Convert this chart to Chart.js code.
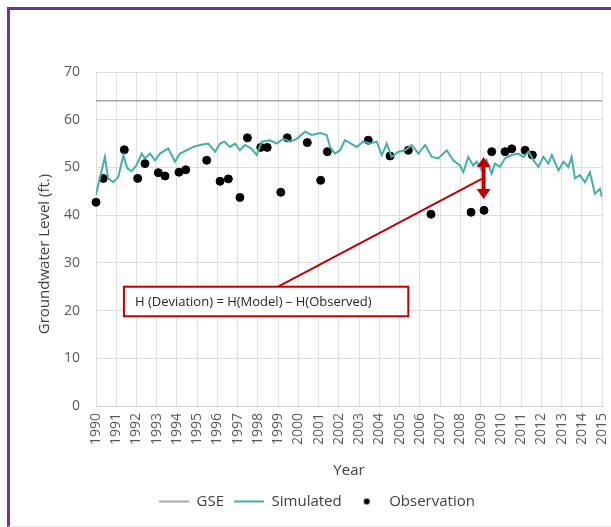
<!DOCTYPE html>
<html>
<head>
<meta charset="utf-8">
<script src="https://cdn.jsdelivr.net/npm/chart.js@4.4.0/dist/chart.umd.min.js"></script>
<style>
  html, body { margin: 0; padding: 0; background: #fff; }
  #wrap { position: relative; width: 611px; height: 527px; overflow: hidden; }
  #frame { position: absolute; left: 7px; top: 7px; width: 700px; height: 516px;
           border-left: 3px solid #7030a0; border-top: 3px solid #7030a0; border-bottom: 1px solid #e8e8e8; }
  #chart { position: absolute; left: 0; top: 0; }
</style>
</head>
<body>
<div id="wrap">
  <div id="frame"></div>
  <canvas id="chart" width="611" height="527"></canvas>
</div>
<script>
// tick labels
const yearTicks = [1990, 1991, 1992, 1993, 1994, 1995, 1996, 1997, 1998, 1999, 2000, 2001, 2002,
                   2003, 2004, 2005, 2006, 2007, 2008, 2009, 2010, 2011, 2012, 2013, 2014, 2015];

// ground surface elevation
const gseYears = [1990, 2015];
const gseLevels = [64, 64];

// simulated groundwater level
const simYears = [1990.0, 1990.44, 1990.6, 1990.85, 1991.1, 1991.35, 1991.55, 1991.76, 1992.0, 1992.26,
                  1992.42, 1992.67, 1992.91, 1993.16, 1993.57, 1993.9, 1994.15, 1994.48, 1994.8, 1995.14,
                  1995.55, 1995.88, 1996.13, 1996.35, 1996.62, 1996.87, 1997.11, 1997.36, 1997.69, 1997.94,
                  1998.19, 1998.6, 1998.93, 1999.25, 1999.58, 1999.92, 2000.33, 2000.66, 2001.07, 2001.4,
                  2001.56, 2001.81, 2002.06, 2002.3, 2002.6, 2002.88, 2003.2, 2003.54, 2003.87, 2004.12,
                  2004.36, 2004.61, 2004.94, 2005.27, 2005.6, 2005.93, 2006.26, 2006.59, 2006.91, 2007.33,
                  2007.65, 2007.98, 2008.15, 2008.39, 2008.64, 2008.8, 2009.05, 2009.3, 2009.55, 2009.71,
                  2009.96, 2010.21, 2010.54, 2010.87, 2011.12, 2011.37, 2011.61, 2011.86, 2012.1, 2012.35,
                  2012.52, 2012.85, 2013.1, 2013.34, 2013.5, 2013.66, 2013.91, 2014.16, 2014.4, 2014.65,
                  2014.9, 2015.0];
const simLevels = [44.3, 52.2, 47.7, 46.9, 48.0, 52.5, 49.8, 49.2, 50.4, 52.9,
                   51.9, 52.9, 51.5, 52.9, 54.0, 51.2, 52.9, 53.6, 54.3, 54.7,
                   55.0, 53.3, 55.0, 55.4, 54.3, 55.0, 53.6, 54.7, 53.9, 52.6,
                   55.4, 55.7, 55.0, 56.0, 55.4, 56.0, 57.5, 56.8, 57.2, 56.8,
                   54.3, 52.9, 53.6, 55.7, 55.0, 54.3, 55.4, 55.0, 55.4, 52.6,
                   55.0, 52.2, 53.3, 53.6, 54.7, 52.9, 54.7, 52.2, 51.9, 53.6,
                   51.5, 50.4, 49.0, 52.2, 50.4, 51.2, 49.5, 51.5, 48.7, 50.8,
                   50.1, 51.9, 52.6, 52.9, 52.2, 53.3, 51.5, 50.1, 52.2, 50.8,
                   52.6, 49.4, 51.2, 50.1, 52.2, 47.7, 48.4, 46.9, 49.0, 44.5,
                   45.5, 43.8];

// observed groundwater level
const obsYears = [1990.0, 1990.36, 1991.4, 1992.06, 1992.42, 1993.08, 1993.41, 1994.1, 1994.43, 1995.47,
                  1996.13, 1996.54, 1997.11, 1997.48, 1998.14, 1998.46, 1999.13, 1999.45, 2000.44, 2001.1,
                  2001.43, 2003.45, 2004.53, 2005.43, 2006.55, 2008.53, 2009.17, 2009.55, 2010.21, 2010.54,
                  2011.2, 2011.56];
const obsLevels = [42.7, 47.7, 53.7, 47.7, 50.8, 48.9, 48.2, 49.0, 49.5, 51.5,
                   47.1, 47.6, 43.7, 56.2, 54.2, 54.2, 44.8, 56.2, 55.2, 47.3,
                   53.3, 55.7, 52.4, 53.6, 40.2, 40.6, 41.0, 53.3, 53.3, 53.9,
                   53.6, 52.6];

const toPoints = (xs, ys) => xs.map((x, i) => ({ x: x, y: ys[i] }));

const FONT = "'Open Sans', sans-serif";
const RED = "#c00000";
const Y_TITLE = "Groundwater Level (ft.)";

// deviation callout, in data units
const callout = {
  text: "H (Deviation) = H(Model) \u2013 H(Observed)",
  box: { x0: 1991.38, x1: 2005.43, y0: 25.0, y1: 18.8 },
  lineFrom: { x: 1999.0, y: 25.0 },
  lineTo: { x: 2009.06, y: 47.6 },
  arrow: { x: 2009.15, top: 52.2, bottom: 43.4 }
};

// small round marker for the legend
const dotIcon = document.createElement("canvas");
dotIcon.width = 30; dotIcon.height = 8;
(function () {
  const c = dotIcon.getContext("2d");
  c.fillStyle = "#000";
  c.beginPath(); c.arc(15, 4, 3, 0, Math.PI * 2); c.fill();
})();

const calloutPlugin = {
  id: "callout",
  afterDatasetsDraw(chart) {
    const ctx = chart.ctx;
    const xs = chart.scales.x, ys = chart.scales.y;
    const px = v => xs.getPixelForValue(v);
    const py = v => ys.getPixelForValue(v);
    ctx.save();

    // leader line
    ctx.strokeStyle = RED;
    ctx.lineWidth = 2;
    ctx.beginPath();
    ctx.moveTo(px(callout.lineFrom.x), py(callout.lineFrom.y));
    ctx.lineTo(px(callout.lineTo.x), py(callout.lineTo.y));
    ctx.stroke();

    // double arrow
    const ax = px(callout.arrow.x);
    const at = py(callout.arrow.top), ab = py(callout.arrow.bottom);
    const hh = 10, hw = 7;
    ctx.fillStyle = RED;
    ctx.fillRect(ax - 2, at + hh - 1, 4, ab - at - 2 * hh + 2);
    ctx.beginPath();
    ctx.moveTo(ax, at); ctx.lineTo(ax + hw, at + hh); ctx.lineTo(ax - hw, at + hh); ctx.closePath();
    ctx.fill();
    ctx.beginPath();
    ctx.moveTo(ax, ab); ctx.lineTo(ax + hw, ab - hh); ctx.lineTo(ax - hw, ab - hh); ctx.closePath();
    ctx.fill();

    // text box
    const bx = px(callout.box.x0), by = py(callout.box.y0);
    const bw = px(callout.box.x1) - bx, bh = py(callout.box.y1) - by;
    ctx.fillStyle = "#fff";
    ctx.fillRect(bx, by, bw, bh);
    ctx.lineWidth = 2;
    ctx.strokeRect(bx, by, bw, bh);
    ctx.fillStyle = "#262626";
    ctx.font = "13px " + FONT;
    ctx.textBaseline = "middle";
    ctx.fillText(callout.text, bx + 11, by + bh / 2 + 1);

    // y axis title, sitting a little below the middle as in the original
    ctx.translate(45, 254);
    ctx.rotate(-Math.PI / 2);
    ctx.textAlign = "center";
    ctx.fillStyle = "#404040";
    ctx.font = "15px " + FONT;
    ctx.fillText(Y_TITLE, 0, 0);
    ctx.restore();
  }
};

new Chart(document.getElementById("chart"), {
  type: "line",
  data: {
    datasets: [
      {
        label: "GSE",
        data: toPoints(gseYears, gseLevels),
        borderColor: "#a6a6a6",
        backgroundColor: "#a6a6a6",
        borderWidth: 1.5,
        pointRadius: 0,
        pointStyle: "line"
      },
      {
        label: "Simulated",
        data: toPoints(simYears, simLevels),
        borderColor: "#45aea9",
        backgroundColor: "#45aea9",
        borderWidth: 2,
        pointRadius: 0,
        pointStyle: "line",
        tension: 0
      },
      {
        label: "Observation",
        data: toPoints(obsYears, obsLevels),
        showLine: false,
        pointRadius: 4,
        pointStyle: "circle",
        pointBackgroundColor: "#000",
        pointBorderColor: "#000",
        backgroundColor: "#000",
        borderColor: "#000",
        clip: false
      }
    ]
  },
  options: {
    responsive: false,
    animation: false,
    layout: { padding: { left: 32, right: 9, top: 72, bottom: 8 } },
    scales: {
      x: {
        type: "linear",
        min: 1990,
        max: 2015,
        afterBuildTicks: axis => { axis.ticks = yearTicks.map(v => ({ value: v })); },
        afterFit: axis => { axis.height = 78; axis.paddingLeft = 0; axis.paddingRight = 0; },
        grid: { color: "#dedede", drawTicks: false },
        border: { color: "#d0d0d0" },
        ticks: {
          autoSkip: false,
          minRotation: 90,
          maxRotation: 90,
          padding: 7,
          color: "#595959",
          font: { family: FONT, size: 14 },
          callback: v => String(v)
        },
        title: { display: true, text: "Year", color: "#404040", font: { family: FONT, size: 15 } }
      },
      y: {
        min: 0,
        max: 70,
        afterFit: axis => { axis.width = 64; axis.paddingTop = 0; axis.paddingBottom = 0; },
        grid: { color: "#dedede", drawTicks: false },
        border: { display: false },
        ticks: { stepSize: 10, padding: 16, color: "#595959", font: { family: FONT, size: 14 } },
        title: { display: false }
      }
    },
    plugins: {
      legend: {
        position: "bottom",
        labels: {
          usePointStyle: true,
          pointStyleWidth: 30,
          boxHeight: 4,
          color: "#404040",
          font: { family: FONT, size: 15 },
          padding: 10,
          generateLabels: chart => chart.data.datasets.map((ds, i) => ({
            text: ds.label,
            datasetIndex: i,
            fillStyle: ds.backgroundColor,
            strokeStyle: ds.borderColor,
            lineWidth: i === 2 ? 0 : 2,
            pointStyle: i === 2 ? dotIcon : "line",
            fontColor: "#404040",
            hidden: false
          }))
        }
      },
      tooltip: { enabled: false }
    }
  },
  plugins: [calloutPlugin]
});
</script>
</body>
</html>
